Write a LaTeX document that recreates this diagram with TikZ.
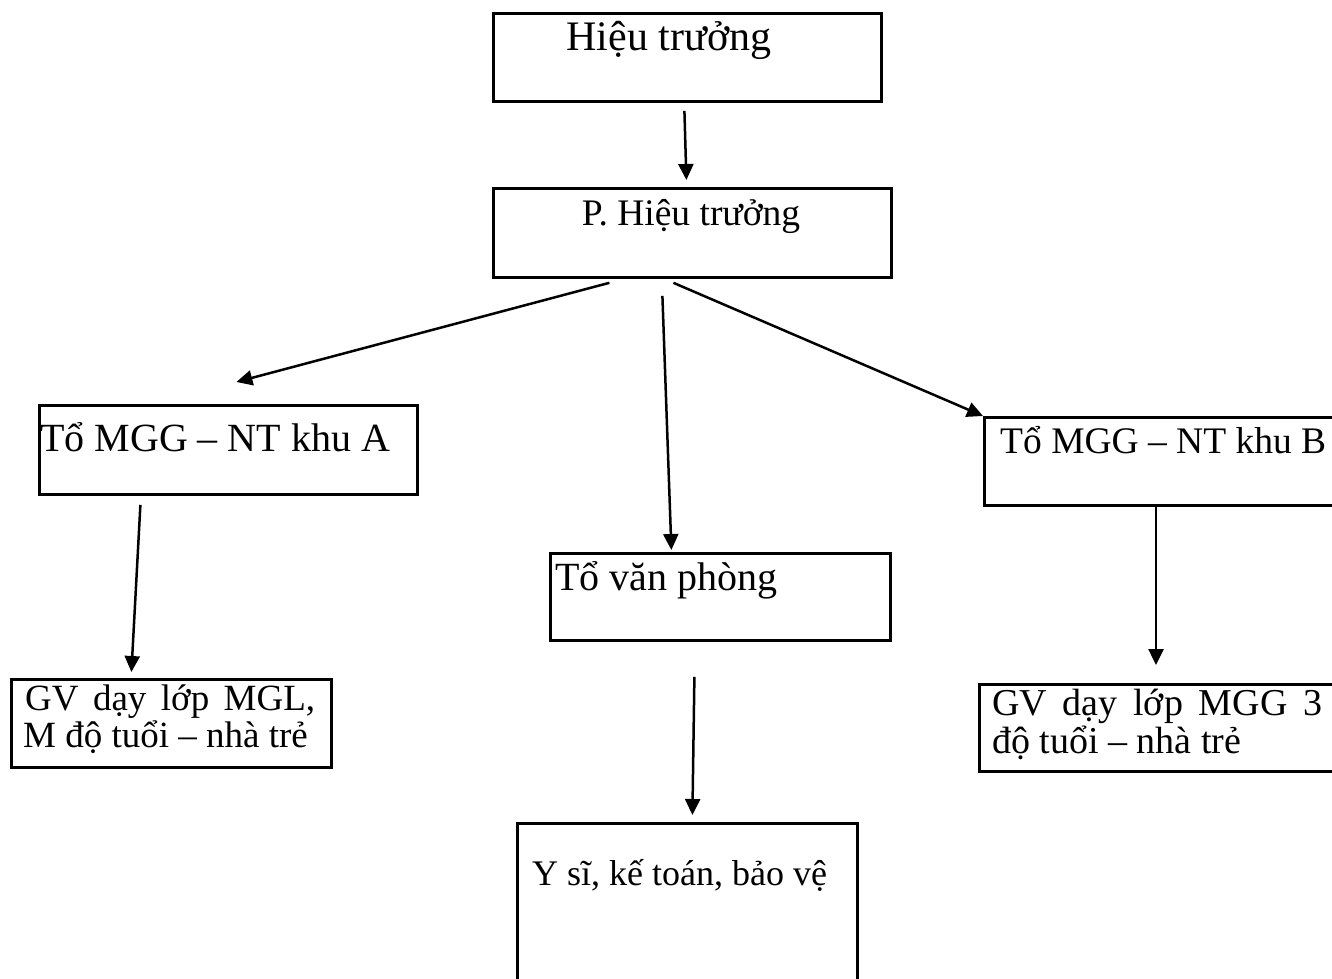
\documentclass[tikz,border=0pt]{standalone}
\usepackage{fontspec}
\setmainfont{Liberation Serif}
\usetikzlibrary{arrows.meta,calc}
\tikzset{
  box/.style={draw, line width=2.8pt, inner sep=0pt, anchor=north west},
  lbl/.style={inner sep=0pt, anchor=base west, font=\fontsize{40}{41}\selectfont},
  arr/.style={line width=2.5pt, -{Triangle[length=16pt,width=15pt]}}
}
\begin{document}
\begin{tikzpicture}[x=1pt,y=-1pt]
\useasboundingbox (0,0) rectangle (1332,978);
\clip (0,0) rectangle (1332,978);
% boxes
\node[box, minimum width=388pt, minimum height=88pt] (ht) at (492,12) {};
\node[box, minimum width=398pt, minimum height=89pt] (pht) at (492,187) {};
\node[box, minimum width=378pt, minimum height=89pt] (ka) at (38,404) {};
\node[box, minimum width=380pt, minimum height=88pt] (kb) at (983,416) {};
\node[box, minimum width=340pt, minimum height=87pt] (vp) at (549,552) {};
\node[box, minimum width=320pt, minimum height=88pt] (gva) at (10,678) {};
\node[box, minimum width=380pt, minimum height=87pt] (gvb) at (978,683) {};
\node[box, minimum width=340pt, minimum height=200pt] (ys) at (516,822) {};
% texts
\node[lbl, anchor=base, font=\fontsize{42}{43}\selectfont] (ht-t) at (669,50) {Hiệu trưởng};
\node[lbl, anchor=base, font=\fontsize{37.5}{38}\selectfont] (pht-t) at (691,225) {P. Hiệu trưởng};
\node[lbl] (ka-t) at (40,451) {Tổ MGG – NT khu A};
\node[lbl, font=\fontsize{37.5}{38}\selectfont] (kb-t) at (1000,453) {Tổ MGG – NT khu B};
\node[lbl] (vp-t) at (555,590) {Tổ văn phòng};
\node[lbl, font=\fontsize{36}{37}\selectfont] (ys-t) at (532,885) {Y sĩ, kế toán, bảo vệ};
\node[lbl, font=\fontsize{37}{38}\selectfont] (gva-t1) at (25,710) {\makebox[290pt][s]{GV dạy lớp MGL,}};
\node[lbl, font=\fontsize{37}{38}\selectfont] (gva-t2) at (23,747) {M độ tuổi – nhà trẻ};
\node[lbl, font=\fontsize{38}{39}\selectfont] (gvb-t1) at (992,715) {\makebox[330pt][s]{GV dạy lớp MGG 3}};
\node[lbl, font=\fontsize{38}{39}\selectfont] (gvb-t2) at (992,753) {độ tuổi – nhà trẻ};
% connectors
\draw[arr] ($(ht.south)+(-3,8)$) -- ($(pht.north)+(-6,-7)$);
\draw[arr] ($(pht.south)+(-83,4)$) -- ($(ka.north)+(8,-22)$);
\draw[arr] ($(pht.south)+(-30,17)$) -- ($(vp.north)+(-49,-2)$);
\draw[arr] ($(pht.south)+(-19,4)$) -- ($(kb.north west)+(0,0)$);
\draw[arr] ($(ka.south)+(-88,9)$) -- ($(gva.north)+(-40,-6)$);
\draw[arr] ($(vp.south)+(-26,35)$) -- ($(ys.north)+(5,-7)$);
\draw[arr] ($(kb.south west)+(173,0)$) -- ($(gvb.north west)+(178,-18)$);
\end{tikzpicture}
\end{document}
